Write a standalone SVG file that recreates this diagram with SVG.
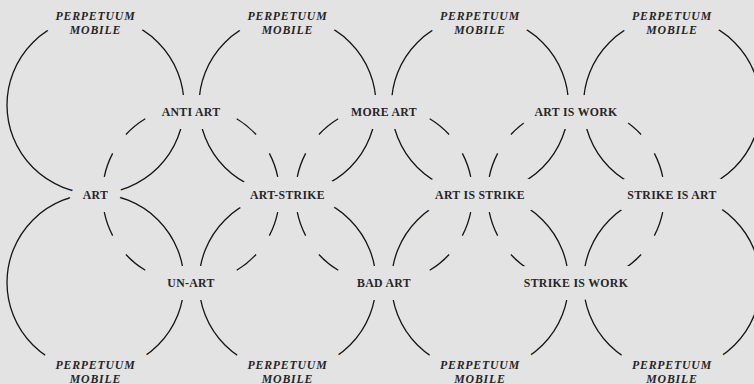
<svg xmlns="http://www.w3.org/2000/svg" width="754" height="384" viewBox="0 0 754 384">
<style>
.bg{fill:#e3e3e3}
.solid{fill:none;stroke:#151515;stroke-width:1.3}
.dash{fill:none;stroke:#151515;stroke-width:1.3;stroke-dasharray:25 23}
.lbl{font-family:"Liberation Serif","Times New Roman",serif;font-weight:bold;font-size:11.8px;letter-spacing:0.3px;fill:#262626;text-anchor:middle;paint-order:stroke;stroke:#e3e3e3;stroke-width:26px;stroke-linejoin:round}
.pm{font-style:italic;letter-spacing:0.8px}
.halo{fill:#e3e3e3}
.ink{stroke:none}
</style>
<rect class="bg" x="0" y="0" width="754" height="384"/>
<g id="connectors">
<circle class="solid" cx="95.5" cy="105" r="88.5"/>
<circle class="solid" cx="287.5" cy="105" r="88.5"/>
<circle class="solid" cx="480" cy="105" r="88.5"/>
<circle class="solid" cx="672" cy="105" r="88.5"/>
<circle class="solid" cx="95.5" cy="282.5" r="88.5"/>
<circle class="solid" cx="287.5" cy="282.5" r="88.5"/>
<circle class="solid" cx="480" cy="282.5" r="88.5"/>
<circle class="solid" cx="672" cy="282.5" r="88.5"/>
<path class="dash" d="M191 106 A88.5 88.5 0 0 0 102.5 194.5"/>
<path class="dash" d="M191 106 A88.5 88.5 0 0 1 279.5 194.5"/>
<path class="dash" d="M191 283 A88.5 88.5 0 0 1 102.5 194.5"/>
<path class="dash" d="M191 283 A88.5 88.5 0 0 0 279.5 194.5"/>
<path class="dash" d="M384 106 A88.5 88.5 0 0 0 295.5 194.5"/>
<path class="dash" d="M384 106 A88.5 88.5 0 0 1 472.5 194.5"/>
<path class="dash" d="M384 283 A88.5 88.5 0 0 1 295.5 194.5"/>
<path class="dash" d="M384 283 A88.5 88.5 0 0 0 472.5 194.5"/>
<path class="dash" d="M576 106 A88.5 88.5 0 0 0 487.5 194.5"/>
<path class="dash" d="M576 106 A88.5 88.5 0 0 1 664.5 194.5"/>
<path class="dash" d="M576 283 A88.5 88.5 0 0 1 487.5 194.5"/>
<path class="dash" d="M576 283 A88.5 88.5 0 0 0 664.5 194.5"/>
</g>
<g id="pm-top-1"><text class="lbl pm halo" x="95.5" y="20">PERPETUUM</text><text class="lbl pm halo" x="95.5" y="34">MOBILE</text><text class="lbl pm ink" x="95.5" y="20">PERPETUUM</text><text class="lbl pm ink" x="95.5" y="34">MOBILE</text></g>
<g id="pm-top-2"><text class="lbl pm halo" x="287.5" y="20">PERPETUUM</text><text class="lbl pm halo" x="287.5" y="34">MOBILE</text><text class="lbl pm ink" x="287.5" y="20">PERPETUUM</text><text class="lbl pm ink" x="287.5" y="34">MOBILE</text></g>
<g id="pm-top-3"><text class="lbl pm halo" x="480" y="20">PERPETUUM</text><text class="lbl pm halo" x="480" y="34">MOBILE</text><text class="lbl pm ink" x="480" y="20">PERPETUUM</text><text class="lbl pm ink" x="480" y="34">MOBILE</text></g>
<g id="pm-top-4"><text class="lbl pm halo" x="672" y="20">PERPETUUM</text><text class="lbl pm halo" x="672" y="34">MOBILE</text><text class="lbl pm ink" x="672" y="20">PERPETUUM</text><text class="lbl pm ink" x="672" y="34">MOBILE</text></g>
<g id="pm-bot-1"><text class="lbl pm halo" x="95.5" y="369">PERPETUUM</text><text class="lbl pm halo" x="95.5" y="382.5">MOBILE</text><text class="lbl pm ink" x="95.5" y="369">PERPETUUM</text><text class="lbl pm ink" x="95.5" y="382.5">MOBILE</text></g>
<g id="pm-bot-2"><text class="lbl pm halo" x="287.5" y="369">PERPETUUM</text><text class="lbl pm halo" x="287.5" y="382.5">MOBILE</text><text class="lbl pm ink" x="287.5" y="369">PERPETUUM</text><text class="lbl pm ink" x="287.5" y="382.5">MOBILE</text></g>
<g id="pm-bot-3"><text class="lbl pm halo" x="480" y="369">PERPETUUM</text><text class="lbl pm halo" x="480" y="382.5">MOBILE</text><text class="lbl pm ink" x="480" y="369">PERPETUUM</text><text class="lbl pm ink" x="480" y="382.5">MOBILE</text></g>
<g id="pm-bot-4"><text class="lbl pm halo" x="672" y="369">PERPETUUM</text><text class="lbl pm halo" x="672" y="382.5">MOBILE</text><text class="lbl pm ink" x="672" y="369">PERPETUUM</text><text class="lbl pm ink" x="672" y="382.5">MOBILE</text></g>
<g id="anti-art"><text class="lbl" x="191" y="115.8">ANTI ART</text></g>
<g id="more-art"><text class="lbl" x="384" y="115.8">MORE ART</text></g>
<g id="art-is-work"><text class="lbl" x="576" y="115.8">ART IS WORK</text></g>
<g id="art"><text class="lbl" x="95.5" y="199">ART</text></g>
<g id="art-strike"><text class="lbl" x="287.5" y="199">ART-STRIKE</text></g>
<g id="art-is-strike"><text class="lbl" x="480" y="199">ART IS STRIKE</text></g>
<g id="strike-is-art"><text class="lbl" x="672" y="199">STRIKE IS ART</text></g>
<g id="un-art"><text class="lbl" x="191" y="287">UN-ART</text></g>
<g id="bad-art"><text class="lbl" x="384" y="287">BAD ART</text></g>
<g id="strike-is-work"><text class="lbl" x="576" y="287">STRIKE IS WORK</text></g>
</svg>
